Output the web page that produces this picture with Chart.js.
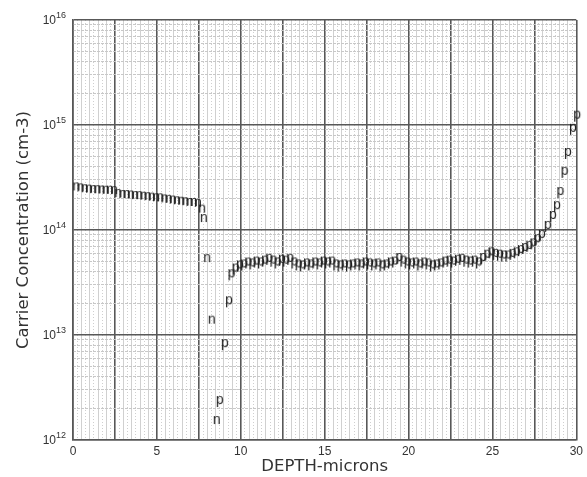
<!DOCTYPE html>
<html>
<head>
<meta charset="utf-8">
<script src="https://cdn.jsdelivr.net/npm/chart.js@4/dist/chart.umd.min.js"></script>
<style>
  html, body { margin: 0; padding: 0; background: #fff; }
</style>
</head>
<body>
<canvas id="chart" width="587" height="477"></canvas>
<script>
// Spreading-resistance profile: carrier concentration vs depth
// n-type points (left side of the junction)
const nDepth = [0.2, 0.45, 0.7, 0.95, 1.2, 1.45, 1.7, 1.95, 2.2, 2.45,
    2.7, 2.95, 3.2, 3.45, 3.7, 3.95, 4.2, 4.45, 4.7, 4.95,
    5.2, 5.45, 5.7, 5.95, 6.2, 6.45, 6.7, 6.95, 7.2, 7.45,
    7.7, 7.8, 8.0, 8.27, 8.57];
const nConc = [2.6e14, 2.55e14, 2.5e14, 2.48e14, 2.45e14, 2.45e14, 2.43e14, 2.42e14, 2.42e14, 2.4e14,
    2.25e14, 2.2e14, 2.2e14, 2.18e14, 2.15e14, 2.15e14, 2.12e14, 2.1e14, 2.08e14, 2.05e14,
    2.05e14, 2.0e14, 1.98e14, 1.95e14, 1.92e14, 1.9e14, 1.88e14, 1.85e14, 1.85e14, 1.82e14,
    1.6e14, 1.3e14, 5.4e13, 1.4e13, 1.55e12];

// p-type points (right side)
const pDepth = [8.75, 9.05, 9.3,
    9.45, 9.7, 9.95, 10.2, 10.45, 10.7, 10.95, 11.2, 11.45, 11.7,
    11.95, 12.2, 12.45, 12.7, 12.95, 13.2, 13.45, 13.7, 13.95, 14.2,
    14.45, 14.7, 14.95, 15.2, 15.45, 15.7, 15.95, 16.2, 16.45, 16.7,
    16.95, 17.2, 17.45, 17.7, 17.95, 18.2, 18.45, 18.7, 18.95, 19.2,
    19.45, 19.7, 19.95, 20.2, 20.45, 20.7, 20.95, 21.2, 21.45, 21.7,
    21.95, 22.2, 22.45, 22.7, 22.95, 23.2, 23.45, 23.7, 23.95, 24.2,
    24.45, 24.7, 24.95, 25.2, 25.45, 25.7, 25.95, 26.2, 26.45, 26.7,
    26.95, 27.2, 27.45, 27.7, 27.95,
    28.3, 28.6, 28.85, 29.05, 29.3, 29.5, 29.8, 30.05];
const pConc = [2.3e12, 8e12, 2.05e13,
    3.7e13, 4.2e13, 4.5e13, 4.6e13, 4.8e13, 4.7e13, 4.9e13, 4.8e13, 5.0e13, 5.2e13,
    5.0e13, 4.8e13, 5.1e13, 5.0e13, 5.2e13, 4.8e13, 4.6e13, 4.5e13, 4.7e13, 4.6e13,
    4.8e13, 4.7e13, 4.9e13, 4.8e13, 4.9e13, 4.6e13, 4.5e13, 4.6e13, 4.5e13, 4.6e13,
    4.7e13, 4.6e13, 4.8e13, 4.7e13, 4.6e13, 4.7e13, 4.5e13, 4.6e13, 4.8e13, 4.9e13,
    5.3e13, 5.0e13, 4.8e13, 4.7e13, 4.8e13, 4.6e13, 4.8e13, 4.7e13, 4.5e13, 4.6e13,
    4.7e13, 4.9e13, 5.0e13, 4.9e13, 5.1e13, 5.2e13, 5.0e13, 4.9e13, 5.0e13, 4.8e13,
    5.3e13, 5.7e13, 6.0e13, 5.8e13, 5.7e13, 5.6e13, 5.6e13, 5.8e13, 6.0e13, 6.3e13,
    6.6e13, 6.9e13, 7.3e13, 8.0e13, 8.8e13,
    1.07e14, 1.33e14, 1.65e14, 2.25e14, 3.5e14, 5.3e14, 9e14, 1.2e15];

// axis labels
const xLabelTicks = [0, 5, 10, 15, 20, 25, 30];
const yExponents = [12, 13, 14, 15, 16];

const FONT = '"Liberation Sans", Arial, sans-serif';
const TITLE_FONT = '"DejaVu Sans", Verdana, sans-serif';
const MAJOR = '#585858';

// letter markers, like the old plotter output
function glyph(ch) {
    const c = document.createElement('canvas');
    c.width = 12;
    c.height = 16;
    const g = c.getContext('2d');
    g.font = '14px "Liberation Mono", "Courier New", monospace';
    g.fillStyle = '#1e1e1e';
    g.textAlign = 'center';
    g.textBaseline = 'alphabetic';
    g.fillText(ch, 6, ch === 'p' ? 10 : 11.5);
    return c;
}

// grid positions
const majorX = [], halfX = [], quarterX = [];
for (let i = 0; i <= 120; i++) {
    const v = i * 0.25;
    if (i % 10 === 0) majorX.push(v);
    else if (i % 2 === 0) halfX.push(v);
    else quarterX.push(v);
}
const majorY = yExponents.map(e => Math.pow(10, e));
const minorY = [];
for (let e = 12; e < 16; e++) {
    for (let m = 2; m <= 9; m++) minorY.push(m * Math.pow(10, e));
}

function setTicks(values) {
    return scale => { scale.ticks = values.map(v => ({ value: v })); };
}

// grid-only axis laid over the main one
function gridAxis(type, axis, values, color, dash, z) {
    const pos = axis === 'x' ? 'bottom' : 'left';
    const scale = {
        type: type,
        axis: axis,
        position: pos,
        afterBuildTicks: setTicks(values),
        afterFit: s => { if (axis === 'x') s.height = 0; else s.width = 0; },
        ticks: { display: false, autoSkip: false },
        grid: { drawTicks: false, color: color, lineWidth: 1, z: z },
        border: { display: false, dash: dash }
    };
    if (axis === 'x') { scale.min = 0; scale.max = 30; }
    else { scale.min = 1e12; scale.max = 1e16; }
    return scale;
}

// superscript labels for the log axis
const powerLabels = {
    id: 'powerLabels',
    afterDraw(chart) {
        const ctx = chart.ctx;
        const y = chart.scales.y;
        ctx.save();
        ctx.fillStyle = '#333';
        yExponents.forEach(e => {
            const py = y.getPixelForValue(Math.pow(10, e));
            ctx.font = '12px ' + FONT;
            ctx.textAlign = 'right';
            ctx.textBaseline = 'middle';
            ctx.fillText('10', 56, py + 1);
            ctx.font = '9px ' + FONT;
            ctx.textAlign = 'left';
            ctx.textBaseline = 'alphabetic';
            ctx.fillText(String(e), 56, py - 2);
        });
        ctx.restore();
    }
};

const ctx = document.getElementById('chart');

new Chart(ctx, {
    type: 'scatter',
    data: {
        datasets: [{
            label: 'n',
            data: nDepth.map((x, i) => ({ x: x, y: nConc[i] })),
            pointStyle: glyph('n'),
            clip: 12
        }, {
            label: 'p',
            data: pDepth.map((x, i) => ({ x: x, y: pConc[i] })),
            pointStyle: glyph('p'),
            clip: 12
        }]
    },
    options: {
        responsive: false,
        animation: false,
        devicePixelRatio: 1,
        layout: {
            padding: { top: 20, right: 10, left: 0, bottom: 0 }
        },
        plugins: {
            legend: { display: false },
            tooltip: { enabled: false }
        },
        scales: {
            x: {
                type: 'linear',
                min: 0,
                max: 30,
                afterBuildTicks: setTicks(majorX),
                afterFit: scale => { scale.height = 37; },
                ticks: {
                    autoSkip: false,
                    maxRotation: 0,
                    padding: 4,
                    color: '#333',
                    font: { family: FONT, size: 12 },
                    callback: v => xLabelTicks.includes(v) ? String(v) : ''
                },
                grid: { drawTicks: false, color: MAJOR, lineWidth: 1.6 },
                border: { display: true, color: MAJOR, width: 1.6 },
                title: {
                    display: true,
                    text: 'DEPTH-microns',
                    color: '#333',
                    font: { family: TITLE_FONT, size: 16.5 },
                    padding: { top: 0, bottom: 0 }
                }
            },
            xHalf: gridAxis('linear', 'x', halfX, '#d0d0d0', [], -1),
            xQuarter: gridAxis('linear', 'x', quarterX, '#cfcfcf', [1, 2], -2),
            y: {
                type: 'logarithmic',
                min: 1e12,
                max: 1e16,
                afterBuildTicks: setTicks(majorY),
                afterFit: scale => { scale.width = 73; },
                ticks: { display: false, autoSkip: false },
                grid: { drawTicks: false, color: MAJOR, lineWidth: 1.6 },
                border: { display: true, color: MAJOR, width: 1.6 },
                title: {
                    display: true,
                    text: 'Carrier Concentration (cm-3)',
                    color: '#333',
                    font: { family: TITLE_FONT, size: 16.5 },
                    padding: { top: 14, bottom: 0 }
                }
            },
            yMinor: gridAxis('logarithmic', 'y', minorY, '#c8c8c8', [3, 1], -1)
        }
    },
    plugins: [powerLabels]
});
</script>
</body>
</html>
